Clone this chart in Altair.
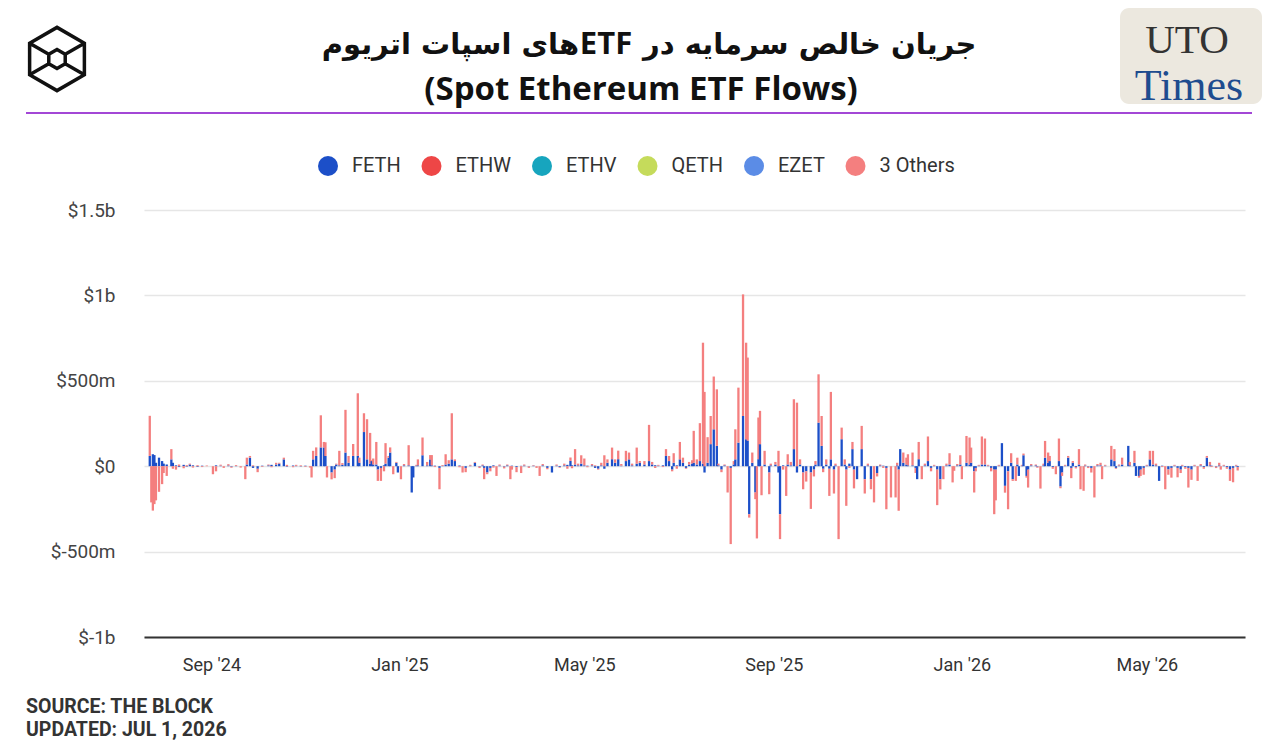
import altair as alt
import pandas as pd

# ---------------- data (values in $ millions, day = days since 2024-07-23) -------------
START = "2024-07-23"

days_2024 = [0, 1, 2, 3, 4, 6, 8, 9, 11, 14,
             15, 17, 19, 22, 24, 26, 28, 31, 34, 37,
             41, 43, 46, 48, 51, 53, 56, 59, 62, 63,
             65, 67, 70, 73, 77, 79, 82, 84, 87, 89,
             93, 95, 98, 101, 104, 105, 106, 108, 111, 113,
             114, 115, 118, 120, 121, 123, 125, 127, 129, 132,
             135, 136, 139, 141, 143, 144, 145, 147, 148, 150,
             152, 153, 155, 156, 158, 160, 161]
feth_2024 = [60, 0, 70, 65, 20, 50, 30, 15, 10, 40,
             20, 5, -5, 8, -3, 10, 5, -4, 3, 0,
             0, 5, 3, 0, 4, -3, 2, 0, 0, 10,
             50, -10, -15, 3, 5, 8, 10, 15, 40, -3,
             4, 2, -2, 3, 0, 0, 40, 60, 110, 110,
             60, 0, -37, -20, 10, 5, 8, 80, 20, 60,
             60, 20, 200, 40, 15, 30, 10, 10, -20, -10,
             5, 15, 50, 80, 0, 20, -37]
others_2024 = [235, -212, -260, -222, -200, -150, -105, -40, -57, 60,
               -15, -20, 10, -12, 6, 5, -8, 6, -5, 4,
               -47, -30, 6, -10, 8, -6, 5, -8, -76, 40,
               10, 5, -20, -4, 5, -6, 10, 5, 10, 8,
               -6, 6, 5, -4, -8, -66, 50, 50, 188, 32,
               80, -66, -40, -50, 5, 85, 10, 250, 40, 70,
               367, 30, 110, 235, 180, 5, 35, 132, -66, -76,
               -30, 120, 10, 30, -47, 5, 0]

days_h1_2025 = [163, 165, 168, 170, 171, 173, 174, 177, 180, 182,
                183, 185, 188, 190, 192, 194, 196, 198, 201, 203,
                205, 208, 211, 214, 216, 217, 219, 221, 223, 225,
                227, 230, 232, 234, 235, 238, 241, 243, 246, 249,
                251, 253, 255, 258, 261, 264, 266, 269, 271, 273,
                274, 276, 278, 280, 282, 284, 287, 289, 291, 293,
                295, 297, 300, 302, 304, 306, 309, 311, 313, 316,
                318, 321, 324, 326, 328, 330, 333, 335, 337, 339,
                340, 342]
feth_h1_2025 = [0, 5, 5, -154, -66, 3, 5, 64, 5, 40,
                5, 3, -10, 2, 10, 15, 40, 30, 4, 0,
                -10, 3, 20, -3, 5, -10, -37, -10, 5, 0,
                4, -3, 5, 0, 3, -5, 2, 4, -2, 3,
                0, 0, 5, -10, -37, 4, -5, 5, 8, 31,
                5, 10, 5, 15, 5, 3, 5, -10, -15, 5,
                -15, 20, 41, 20, 41, 3, 30, 40, 5, 15,
                20, 10, 30, 10, 5, 3, 5, 60, 30, -20,
                20, 5]
others_h1_2025 = [-76, 8, 118, 0, 0, 5, 35, 104, 20, 25,
                  60, -5, -125, 5, 60, 20, 270, 10, -6, -37,
                  -25, 5, 5, -8, 5, -66, -10, -20, -8, -57,
                  6, -10, 5, -76, -20, -30, -40, 6, -8, 3,
                  -10, -57, 8, -8, 0, 6, -4, 10, -15, 20,
                  -12, 90, 10, 49, 40, -6, 8, 5, -5, 15,
                  64, 20, 68, 20, 50, 10, 60, 40, 10, 94,
                  10, 20, 212, 15, -10, 5, -5, 40, 30, -10,
                  56, -15]

days_h2_2025 = [344, 346, 348, 350, 352, 353, 355, 357, 359, 360,
                362, 364, 366, 368, 369, 371, 373, 375, 377, 379,
                380, 382, 385, 387, 388, 389, 391, 393, 394, 395,
                396, 397, 399, 402, 403, 406, 408, 409, 411, 413,
                414, 416, 418, 420, 422, 424, 426, 429, 431, 432,
                434, 436, 437, 439, 441, 442, 444, 445, 447, 449,
                451, 452, 454, 456, 457, 459, 462, 464, 466, 468,
                470, 472, 474, 476, 478, 481, 484, 485, 486, 487,
                489, 491, 492, 495, 497, 498, 499, 501, 503, 505,
                507, 509, 511, 513, 515, 517, 519, 521, 522, 524,
                526]
feth_h2_2025 = [40, 20, -10, 10, 15, 20, 10, 30, 15, -37,
                20, 129, 216, 119, 5, -20, 5, 0, -10, 10,
                40, 138, 294, 158, 150, -281, 20, -154, 0, 41,
                129, 0, 10, -37, 5, 10, -37, -281, 5, 0,
                10, 5, 100, -37, 10, -37, -30, -37, -20, 10,
                255, 119, -15, 10, -15, 40, -20, 5, 0, 158,
                10, -20, 15, 100, -20, -76, 100, -76, 5, -76,
                0, -40, 5, 3, -10, 0, 0, 5, -20, 100,
                20, 10, 5, 5, -10, -76, 41, 0, 5, 30,
                -10, 3, -20, -76, 0, 5, 10, 0, 0, 5,
                10]
others_h2_2025 = [102, 30, -5, 15, 20, 187, 30, 222, 708, 435,
                  150, 165, 309, 331, 10, -15, 5, -154, -446, 20,
                  176, 322, 712, 565, 486, -20, 60, -39, -423, 244,
                  195, -170, 80, -127, 10, 15, 90, -146, -20, -174,
                  60, 20, 292, 372, 30, -98, -60, -213, -40, 20,
                  283, 175, -20, 30, -159, 395, -140, 10, -427, 68,
                  30, -212, -10, 42, -110, 0, 136, -84, 10, -59,
                  -212, -20, 5, -10, -242, -183, -183, 15, -241, 0,
                  60, 40, 65, 75, -30, 0, 101, -76, 10, 144,
                  -20, 5, -208, -60, -76, 10, 66, -95, -27, 8,
                  54]

days_2026 = [527, 530, 532, 533, 535, 536, 538, 540, 542, 544,
             546, 548, 549, 551, 553, 555, 557, 559, 560, 562,
             563, 564, 566, 567, 569, 570, 572, 575, 576, 578,
             580, 581, 583, 584, 586, 588, 590, 591, 592, 594,
             596, 598, 599, 601, 603, 604, 606, 607, 609, 611,
             613, 615, 617, 618, 620, 624, 626, 627, 629, 631,
             635, 636, 639, 640, 642, 643, 645, 647, 649, 651,
             653, 655, 657, 659, 661, 663, 665, 667, 669, 670,
             672, 674, 676, 678, 680, 682, 684, 686, 688, 689,
             692, 694, 695, 697, 699, 701, 703, 705, 706]
feth_2026 = [0, 20, 10, 20, -30, -10, 3, 10, 10, 3,
             -10, -20, -20, 3, 135, -115, -30, 20, -76, 0,
             10, -57, 3, 64, -57, -20, 5, 5, -3, 0,
             5, 50, 20, 30, -5, 0, 30, -119, -37, 3,
             50, -10, 20, -5, 10, 0, 0, 4, -3, -10,
             0, 5, 5, 0, 3, 40, 30, -10, 4, 10,
             119, 5, 20, -57, -57, -20, -10, 3, 40, 10,
             5, -86, 3, 0, -20, -10, 3, -10, -20, 3,
             -5, -10, -20, 3, 0, 5, -5, 50, 5, 3,
             -3, 5, 0, 3, -5, -20, -10, 3, -5]
others_2026 = [-76, 157, 158, 89, -124, -20, 5, 164, 152, 5,
               -20, -261, -180, 5, 0, -40, -222, 56, -10, -86,
               40, 0, 5, 10, -10, -105, 8, 5, -6, -131,
               10, 98, 60, 30, -10, -47, 132, -10, -20, 5,
               10, -60, 10, -8, 90, -135, -144, 6, -8, -27,
               -183, 8, 15, -76, 5, 79, 70, -5, 6, 40,
               0, 20, 70, 0, -10, -37, -40, 5, 50, 80,
               10, 0, -5, -135, -30, -57, 5, -55, -20, 5,
               -10, -115, -60, 5, -86, 8, -10, 10, 20, -5,
               -8, 15, -20, 5, -10, -66, -84, 5, -20]

funds = ["FETH", "ETHW", "ETHV", "QETH", "EZET", "3 Others"]
fund_colors = ["#1C4FC8", "#EE4646", "#17A5BE", "#C5DB5B", "#5B8CE6", "#F47F7F"]

y_ticks = [-1000, -500, 0, 500, 1000, 1500]

# title: "جریان خالص سرمایه در ETFهای اسپات اتریوم" split into single-direction runs
title_fa_right = "جریان خالص سرمایه در"
title_fa_mid = "ETF"
title_fa_left = "های اسپات اتریوم"
title_en = "(Spot Ethereum ETF Flows)"
source_lines = ["SOURCE: THE BLOCK", "UPDATED: JUL 1, 2026"]

# ---------------- build table ----------------
segments = [
    (days_2024, feth_2024, others_2024),
    (days_h1_2025, feth_h1_2025, others_h1_2025),
    (days_h2_2025, feth_h2_2025, others_h2_2025),
    (days_2026, feth_2026, others_2026),
]
rows = []
start = pd.Timestamp(START)
for d_list, f_list, o_list in segments:
    assert len(d_list) == len(f_list) == len(o_list)
    for d, fv, ov in zip(d_list, f_list, o_list):
        date = start + pd.Timedelta(days=d)
        if fv != 0:
            rows.append({"date": date, "fund": "FETH", "value": fv, "ord": 0})
        if ov != 0:
            rows.append({"date": date, "fund": "3 Others", "value": ov, "ord": 5})
df = pd.DataFrame(rows)

W, H = 1101, 427
FONT = "Roboto"

label_expr = ("datum.value == 0 ? '$0' : (abs(datum.value) >= 1000 ? '$' + (datum.value/1000) + 'b' "
              ": '$' + datum.value + 'm')")

x_ticks = [alt.DateTime(year=2024, month=9, date=1), alt.DateTime(year=2025, month=1, date=1),
           alt.DateTime(year=2025, month=5, date=1), alt.DateTime(year=2025, month=9, date=1),
           alt.DateTime(year=2026, month=1, date=1), alt.DateTime(year=2026, month=5, date=1)]

bars = alt.Chart(df).mark_bar(size=2.3).encode(
    x=alt.X("date:T",
            scale=alt.Scale(domain=[alt.DateTime(year=2024, month=7, date=22, hours=12),
                                    alt.DateTime(year=2026, month=6, date=30, hours=12)]),
            axis=alt.Axis(values=x_ticks, format="%b '%y", title=None, grid=False, ticks=False,
                          labelFont=FONT, labelFontSize=18, labelColor="#333333", labelPadding=19,
                          domainColor="#333333", domainWidth=2)),
    y=alt.Y("value:Q", stack="zero",
            scale=alt.Scale(domain=[-1000, 1500], nice=False, zero=True),
            axis=alt.Axis(values=y_ticks, labelExpr=label_expr, title=None, domain=False, ticks=False,
                          labelFont=FONT, labelFontSize=19, labelColor="#444444", labelPadding=29,
                          gridColor="#E6E6E6", gridWidth=1.5)),
    color=alt.Color("fund:N",
                    scale=alt.Scale(domain=funds, range=fund_colors),
                    legend=alt.Legend(orient="none", legendX=174, legendY=-54, direction="horizontal",
                                      title=None, symbolType="circle", symbolSize=400,
                                      symbolStrokeWidth=0, symbolOpacity=1,
                                      labelFont=FONT, labelFontSize=20, labelColor="#333333",
                                      labelOffset=14, columnPadding=20.5)),
    order=alt.Order("ord:Q", sort="ascending"),
)

one = pd.DataFrame({"k": [0]})

t_right = alt.Chart(pd.DataFrame({"t": [title_fa_right]})).mark_text(
    font="DejaVu Sans", fontSize=29, fontWeight="bold", color="#111111", align="left",
    baseline="alphabetic").encode(text="t:N", x=alt.value(499), y=alt.value(-156))
t_mid = alt.Chart(pd.DataFrame({"t": [title_fa_mid]})).mark_text(
    font="Open Sans", fontSize=31, fontWeight="bold", color="#111111", align="center",
    baseline="alphabetic").encode(text="t:N", x=alt.value(462), y=alt.value(-156))
t_left = alt.Chart(pd.DataFrame({"t": [title_fa_left]})).mark_text(
    font="DejaVu Sans", fontSize=29, fontWeight="bold", color="#111111", align="right",
    baseline="alphabetic").encode(text="t:N", x=alt.value(435), y=alt.value(-156))
title2 = alt.Chart(pd.DataFrame({"t": [title_en]})).mark_text(
    font="Open Sans", fontSize=33, fontWeight="bold", color="#111111", align="center",
    baseline="alphabetic").encode(text="t:N", x=alt.value(497), y=alt.value(-110))

header_rule = alt.Chart(one).mark_rule(color="#A347D6", strokeWidth=2).encode(
    x=alt.value(-118), x2=alt.value(1108), y=alt.value(-97))

cube_path = ("M0,-1L0.866,-0.5L0.866,0.5L0,1L-0.866,0.5L-0.866,-0.5Z"
             "M0,-0.3L0.26,-0.15L0.26,0.15L0,0.3L-0.26,0.15L-0.26,-0.15Z"
             "M-0.866,-0.5L-0.26,-0.15M0.866,-0.5L0.26,-0.15"
             "M-0.866,0.5L-0.26,0.15M0.866,0.5L0.26,0.15")
logo = alt.Chart(one).mark_point(shape=cube_path, filled=False, size=4000, strokeWidth=3.5,
                                 color="#111111", opacity=1).encode(
    x=alt.value(-87), y=alt.value(-151))

uto_box = alt.Chart(one).mark_rect(color="#ECE8DF", cornerRadius=9).encode(
    x=alt.value(976), x2=alt.value(1118), y=alt.value(-202), y2=alt.value(-106))
uto_1 = alt.Chart(pd.DataFrame({"t": ["UTO"]})).mark_text(
    font="Liberation Serif", fontSize=41, color="#333333", align="center", baseline="alphabetic").encode(
    text="t:N", x=alt.value(1043), y=alt.value(-157))
uto_2 = alt.Chart(pd.DataFrame({"t": ["Times"]})).mark_text(
    font="Liberation Serif", fontSize=44, color="#1E4C8F", align="center", baseline="alphabetic").encode(
    text="t:N", x=alt.value(1045), y=alt.value(-110))

src1 = alt.Chart(pd.DataFrame({"t": [source_lines[0]]})).mark_text(
    font=FONT, fontSize=19.5, fontWeight="bold", color="#333333", align="left", baseline="middle").encode(
    text="t:N", x=alt.value(-118), y=alt.value(497))
src2 = alt.Chart(pd.DataFrame({"t": [source_lines[1]]})).mark_text(
    font=FONT, fontSize=19.5, fontWeight="bold", color="#333333", align="left", baseline="middle").encode(
    text="t:N", x=alt.value(-118), y=alt.value(520))

chart = alt.layer(
    bars, t_right, t_mid, t_left, title2, header_rule, logo, uto_box, uto_1, uto_2, src1, src2
).properties(
    width=W, height=H,
    padding={"left": 144, "top": 210, "right": 35, "bottom": 113},
    autosize=alt.AutoSizeParams(type="none"),
    background="white",
).configure_view(stroke=None)

chart.save("out.html", embed_options={"renderer": "svg", "actions": False})
